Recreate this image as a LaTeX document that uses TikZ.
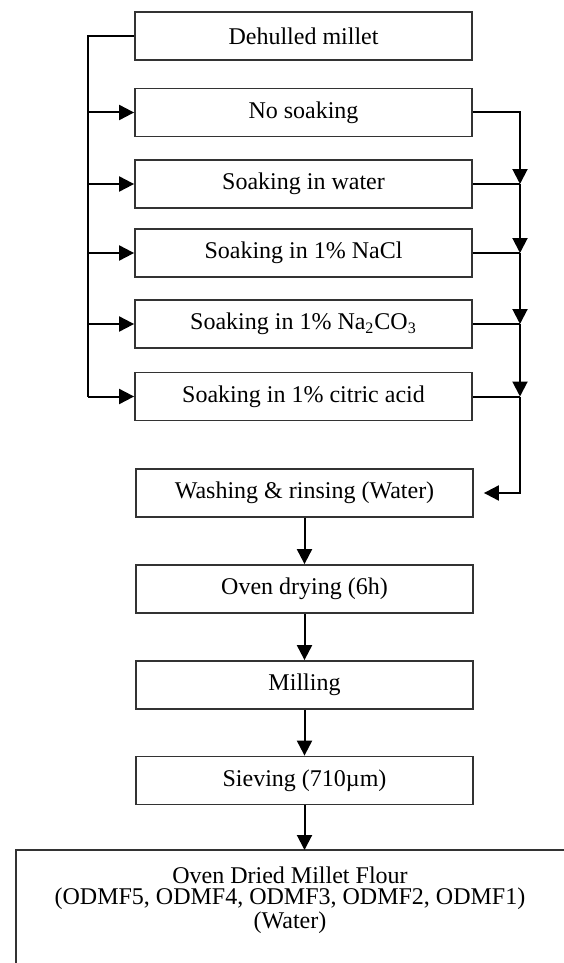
\documentclass[tikz,border=0pt]{standalone}
\usepackage{fontspec}
\setmainfont{Liberation Serif}
\usetikzlibrary{arrows.meta}
\begin{document}
\begin{tikzpicture}[x=0.5pt,y=-0.5pt,
  box/.style={draw=black!80,line width=0.9pt,minimum width=168.5pt,minimum height=24pt,inner sep=0pt,font=\fontsize{12}{14}\selectfont},
  conn/.style={line width=1pt,black},
  arr/.style={conn,-{Triangle[length=7.5pt,width=7.5pt]}}]
\useasboundingbox (0,0) rectangle (563,963);
\node[box] (dm) at (303.5,36) {Dehulled millet};
\node[box] (ns) at (303.5,112.5) {No soaking};
\node[box] (sw) at (303.5,184) {Soaking in water};
\node[box] (sn) at (303.5,253) {Soaking in 1\% NaCl};
\node[box] (sc) at (303.5,324) {Soaking in 1\% Na\textsubscript{2}CO\textsubscript{3}};
\node[box] (sa) at (303.5,396.5) {Soaking in 1\% citric acid};
\node[box] (wr) at (304.5,493) {Washing \& rinsing (Water)};
\node[box] (od) at (304.5,589) {Oven drying (6h)};
\node[box] (mi) at (304.5,685) {Milling};
\node[box] (sv) at (304.5,780.5) {Sieving (710µm)};
\node[align=center,inner sep=0pt,font=\fontsize{12}{10.7}\selectfont] (fin) at (290,900)
  {Oven Dried Millet Flour\\(ODMF5, ODMF4, ODMF3, ODMF2, ODMF1)\\(Water)};
\coordinate (ftr) at (564,850);
\coordinate (ftl) at (16,850);
\coordinate (fbl) at (16,964);
\draw[draw=black!80,line width=0.9pt] (ftr) -- (ftl) -- (fbl);
% left rail
\coordinate (lx) at (88,0);
\draw[conn] (dm.west) -- (dm.west -| lx) -- (sa.west -| lx);
\foreach \n in {ns,sw,sn,sc,sa} \draw[arr] (\n.west -| lx) -- (\n.west);
% right rail
\coordinate (rx) at (520,0);
\draw[arr] (ns.east) -| (sw.east -| rx);
\draw[conn] (sw.east) -- (sw.east -| rx);
\draw[arr] (sw.east -| rx) -- (sn.east -| rx);
\draw[conn] (sn.east) -- (sn.east -| rx);
\draw[arr] (sn.east -| rx) -- (sc.east -| rx);
\draw[conn] (sc.east) -- (sc.east -| rx);
\draw[arr] (sc.east -| rx) -- (sa.east -| rx);
\draw[conn] (sa.east) -- (sa.east -| rx);
\draw[arr] (sa.east -| rx) |- ([xshift=5pt]wr.east);
% down chain
\draw[arr] (wr.south) -- (od.north);
\draw[arr] (od.south) -- (mi.north);
\draw[arr] (mi.south) -- (sv.north);
\draw[arr] (sv.south) -- (sv.south |- ftl);
\end{tikzpicture}
\end{document}
